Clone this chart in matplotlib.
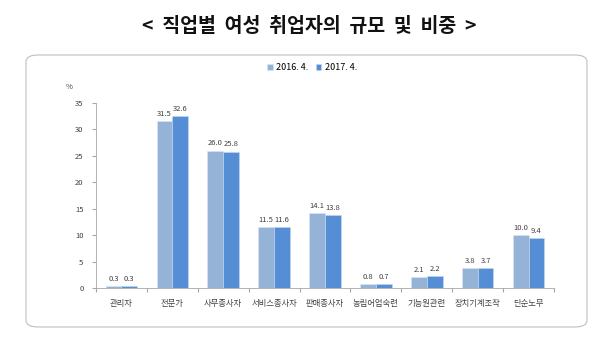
import numpy as np
import matplotlib.pyplot as plt
from matplotlib.patches import FancyBboxPatch

plt.rcParams['font.family'] = ['Noto Sans CJK KR', 'DejaVu Sans']

# data
categories = ['관리자', '전문가', '사무종사자', '서비스종사자', '판매종사자',
              '농림어업숙련', '기능원관련', '장치기계조작', '단순노무']
series_labels = ['2016. 4.', '2017. 4.']
vals_2016 = [0.3, 31.5, 26.0, 11.5, 14.1, 0.8, 2.1, 3.8, 10.0]
vals_2017 = [0.3, 32.6, 25.8, 11.6, 13.8, 0.7, 2.2, 3.7, 9.4]
colors = ['#95B3D7', '#558ED5']

fig = plt.figure(figsize=(6.03, 3.39), dpi=100)

# rounded frame around the chart
box = FancyBboxPatch((26 / 603, 1 - 327 / 339), 561 / 603, 272 / 339,
                     boxstyle='round,pad=0,rounding_size=0.02',
                     transform=fig.transFigure, facecolor='none',
                     edgecolor='#BFBFBF', linewidth=0.8, zorder=-1)
fig.patches.append(box)

title = '  '.join(['<', '직업별', '여성', '취업자의', '규모', '및', '비중', '>'])
fig.text(0.513, 1 - 26 / 339, title,
         ha='center', va='center', fontsize=14, fontweight='bold', color='#111111')

ax = fig.add_axes([96 / 603, 1 - 288 / 339, 458 / 603, 185 / 339])
ax.patch.set_alpha(0)
x = np.arange(len(categories))
w = 0.31
b1 = ax.bar(x - w / 2, vals_2016, w, color=colors[0], edgecolor='#DCE6F2',
            linewidth=0.4, label=series_labels[0])
b2 = ax.bar(x + w / 2, vals_2017, w, color=colors[1], edgecolor='#C6D9F1',
            linewidth=0.4, label=series_labels[1])

for bars, vals in ((b1, vals_2016), (b2, vals_2017)):
    for rect, v in zip(bars, vals):
        ax.text(rect.get_x() + rect.get_width() / 2, v + 0.6, f'{v:.1f}',
                ha='center', va='bottom', fontsize=5.5, color='#404040')

ax.set_xlim(-0.5, len(categories) - 0.5)
ax.set_ylim(0, 35)
ax.set_yticks(np.arange(0, 36, 5))
ax.set_xticks(np.arange(-0.5, len(categories), 1))
ax.set_xticklabels([])
ax.set_xticks(x, minor=True)
ax.set_xticklabels(categories, minor=True)
ax.tick_params(axis='x', which='minor', length=0, pad=8, labelsize=6, labelcolor='#404040')
ax.tick_params(axis='x', which='major', length=3, color='#A6A6A6')
ax.tick_params(axis='y', length=3, color='#A6A6A6', labelsize=5.5, labelcolor='#404040', pad=6)
for s in ('top', 'right'):
    ax.spines[s].set_visible(False)
ax.spines['left'].set_color('#A6A6A6')
ax.spines['bottom'].set_color('#A6A6A6')
ax.spines['left'].set_linewidth(0.6)
ax.spines['bottom'].set_linewidth(0.6)

fig.text(66 / 603, 1 - 87 / 339, '%', fontsize=5.5, color='#404040', va='center')

fig.legend(handles=[b1, b2], labels=series_labels, loc='center',
           bbox_to_anchor=(312 / 603, 1 - 68 / 339), ncol=2, frameon=False,
           fontsize=6.5, handlelength=0.6, handleheight=0.6, handletextpad=0.4,
           columnspacing=0.8)

fig.savefig('out.png', dpi=100)
